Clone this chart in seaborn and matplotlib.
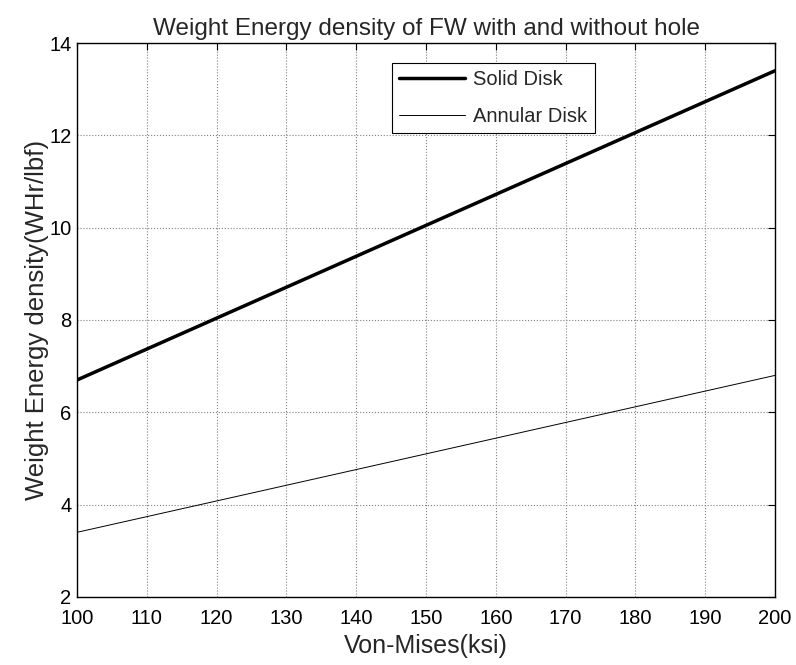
import numpy as np
import pandas as pd
import seaborn as sns
import matplotlib.pyplot as plt

# Von-Mises stress (ksi) and weight energy density (WHr/lbf)
stress = [100, 110, 120, 130, 140, 150, 160, 170, 180, 190, 200]
solid_disk = [6.70, 7.37, 8.04, 8.71, 9.38, 10.05, 10.72, 11.39, 12.06, 12.73, 13.40]
annular_disk = [3.40, 3.74, 4.08, 4.42, 4.76, 5.10, 5.44, 5.78, 6.12, 6.46, 6.80]

df = pd.concat([
    pd.DataFrame({"stress": stress, "energy": solid_disk, "disk": "Solid Disk"}),
    pd.DataFrame({"stress": stress, "energy": annular_disk, "disk": "Annular Disk"}),
])

sns.set_style("white")
plt.rcParams["font.family"] = ["Liberation Sans", "DejaVu Sans"]

fig = plt.figure(figsize=(7.96, 6.65), dpi=100)
ax = fig.add_axes([0.0967, 0.1023, 0.877, 0.833])

sns.lineplot(data=df, x="stress", y="energy", hue="disk", size="disk",
             palette={"Solid Disk": "black", "Annular Disk": "black"},
             sizes={"Solid Disk": 2.5, "Annular Disk": 0.7},
             ax=ax, legend=False)

ax.set_xlim(100, 200)
ax.set_ylim(2, 14)
ax.set_xticks(range(100, 201, 10))
ax.set_yticks(range(2, 15, 2))
ax.grid(True, color="#808080", linestyle=":", linewidth=0.8)
ax.tick_params(direction="in", top=True, right=True, length=5, width=0.8,
               labelsize=14.5, colors="black")
ax.tick_params(axis="x", pad=9)
ax.tick_params(axis="y", pad=4)
for s in ax.spines.values():
    s.set_color("black")
    s.set_linewidth(1.0)

ax.set_xlabel("Von-Mises(ksi)", fontsize=18, labelpad=4)
ax.set_ylabel("Weight Energy density(WHr/lbf)", fontsize=18.5, labelpad=0)
ax.set_title("Weight Energy density of FW with and without hole", fontsize=17.5, pad=6)

leg = ax.legend(ax.get_lines()[:2], ["Solid Disk", "Annular Disk"],
                loc="upper left", bbox_to_anchor=(0.451, 0.964), borderaxespad=0,
                fontsize=14.5, frameon=True, fancybox=False, edgecolor="black",
                framealpha=1, handlelength=3.3, borderpad=0.35, labelspacing=0.9,
                handletextpad=0.4)
leg.get_frame().set_linewidth(0.8)

fig.savefig("out.png", dpi=100)
